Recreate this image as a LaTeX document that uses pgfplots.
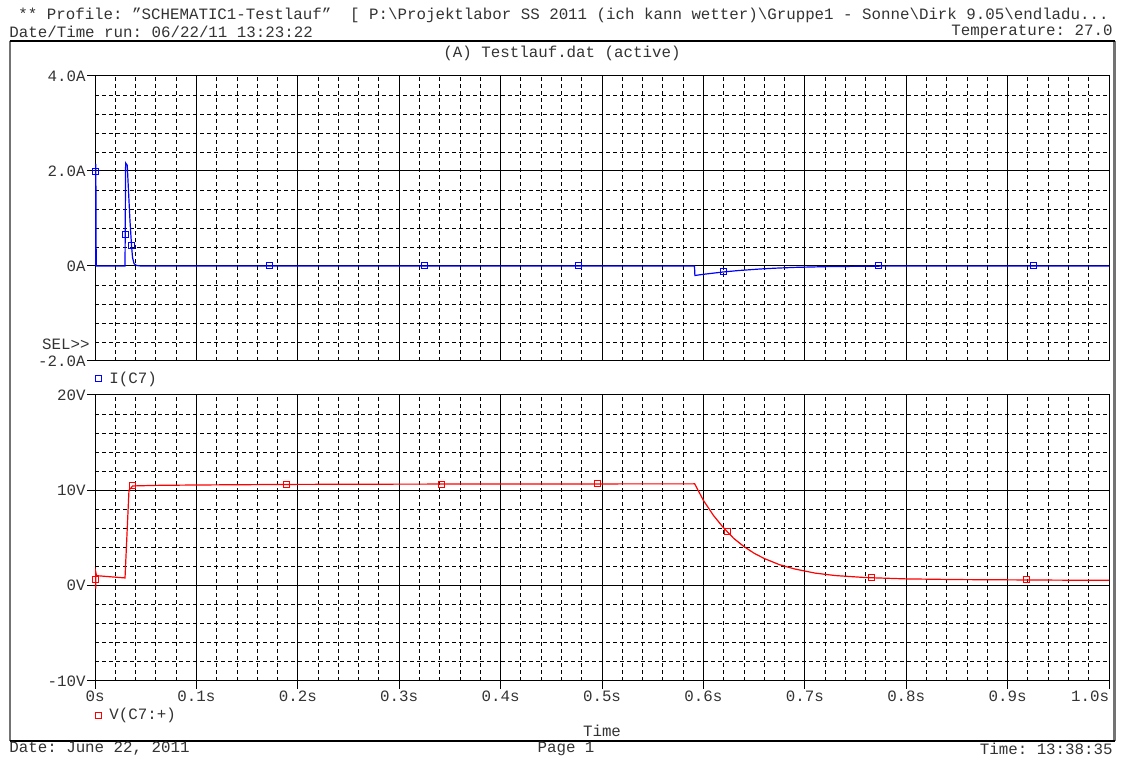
\documentclass[border=0pt]{standalone}
\usepackage{fontspec}
\setmainfont{Liberation Mono}[Ligatures=ResetAll]
\usepackage{pgfplots}
\pgfplotsset{compat=1.18}
\newcommand{\fsz}{\fontsize{7.9pt}{9pt}\selectfont}
\definecolor{txt}{gray}{0.2}

\pgfplotsset{
  psp/.style={
    scale only axis, width=507pt,
    xmin=0, xmax=1,
    xtick={0,0.1,...,1.0}, minor x tick num=4, minor y tick num=4,
    grid=both,
    major grid style={black, line width=0.5pt, solid},
    minor grid style={black, line width=0.45pt, dash pattern=on 2pt off 1.5pt},
    axis line style={black, line width=0.5pt},
    tick align=outside, major tick length=4pt, minor tick length=0pt,
    tick style={black, line width=0.5pt},
    xtick pos=bottom, ytick pos=left,
    tick label style={font=\fsz, text=txt},
    yticklabel style={inner sep=0.5pt},
    xticklabel style={inner sep=1pt},
    legend style={draw=none, fill=none, font=\fsz, text=txt, inner sep=0pt,
                  nodes={inner sep=1pt}, column sep=3pt},
    legend image code/.code={\draw[#1] plot coordinates {(0pt,0pt)};},
    clip=true,
  },
}

\begin{document}
\frenchspacing
\fsz
\begin{tikzpicture}[x=0.5pt, y=0.5pt, font=\fsz]
\path[use as bounding box] (0,0) rectangle (1122,758);

% page frame
\draw[black!55, line width=1.1pt] (10,717) -- (10,17);
\draw[black!55, line width=1.1pt] (1114.5,717) -- (1114.5,17);
\draw[black, line width=0.6pt] (9.5,717) -- (1115,717);
\draw[black, line width=0.6pt] (9.5,17) -- (1115,17);

% header and footer text
\node[anchor=west, inner sep=0, text=txt] at (18,743) {** Profile: \symbol{34}SCHEMATIC1-Testlauf\symbol{34}\ \ [ P:\textbackslash Projektlabor SS 2011 (ich kann wetter)\textbackslash Gruppe1 - Sonne\textbackslash Dirk 9.05\textbackslash endladu...};
\node[anchor=west, inner sep=0, text=txt] at (9,726) {Date/Time run: 06/22/11 13:23:22};
\node[anchor=east, inner sep=0, text=txt] at (1113,726) {Temperature: 27.0};
\node[inner sep=0, text=txt] at (562,705) {(A) Testlauf.dat (active)};
\node[anchor=east, inner sep=0, text=txt] at (90,414) {SEL{>}{>}};
\node[anchor=west, inner sep=0, text=txt] at (9,9) {Date: June 22, 2011};
\node[inner sep=0, text=txt] at (566,9) {Page 1};
\node[anchor=east, inner sep=0, text=txt] at (1113,9) {Time: 13:38:35};

\coordinate (A1) at (95,397);
\coordinate (A2) at (95,77);

% upper plot: I(C7)
\begin{axis}[psp, at={(A1)}, anchor=south west, height=142.5pt,
    ymin=-2, ymax=4, ytick={-2,0,2,4},
    yticklabels={-2.0A,0A,2.0A,4.0A},
    xticklabels={}, xtick style={draw=none},
    legend style={at={(axis description cs:0,-0.063)}, anchor=west},
]
\addplot[blue, line width=0.6pt, forget plot] coordinates {
 (0.0008,0) (0.0008,2.15) (0.0012,0) (0.0296,0) (0.0302,2.17) (0.0318,2.12)
 (0.0330,1.60) (0.0345,0.95) (0.0360,0.44) (0.0370,0.18) (0.0385,0.05)
 (0.041,0.01) (0.045,0) (0.5912,0) (0.5916,-0.20) (0.600,-0.175)
 (0.610,-0.150) (0.620,-0.125) (0.635,-0.095) (0.656,-0.063) (0.670,-0.047)
 (0.689,-0.030) (0.720,-0.014) (0.760,-0.005) (0.800,0) (1.0,0)
};
\addplot[blue, only marks, mark=square, mark size=1.5pt, line width=0.5pt] coordinates {
 (0,1.98) (0.0300,0.67) (0.0360,0.44) (0.1716,0) (0.3245,0) (0.477,0)
 (0.620,-0.12) (0.773,0) (0.926,0)
};
\addlegendentry{I(C7)}
\end{axis}

% lower plot: V(C7:+)
\begin{axis}[psp, at={(A2)}, anchor=south west, height=143pt,
    ymin=-10, ymax=20, ytick={-10,0,10,20},
    yticklabels={-10V,0V,10V,20V},
    xticklabels={0s,0.1s,0.2s,0.3s,0.4s,0.5s,0.6s,0.7s,0.8s,0.9s,\makebox[0pt][r]{1.0s}},
    xlabel={Time},
    xlabel style={at={(axis description cs:0.5,-0.175)}, anchor=center, font=\fsz, text=txt, inner sep=0pt},
    legend style={at={(axis description cs:0,-0.119)}, anchor=west},
]
\addplot[red, line width=0.6pt, forget plot] coordinates {
 (0.0008,-0.3) (0.0008,1.4) (0.0015,1.05) (0.0296,0.81) (0.0335,10.0) (0.0371,10.46)
 (0.06,10.52) (0.1,10.56) (0.19,10.62) (0.3,10.65) (0.45,10.67) (0.5914,10.68)
 (0.600,8.95) (0.610,7.35) (0.620,6.05) (0.630,4.95) (0.640,4.10) (0.650,3.40)
 (0.660,2.85) (0.675,2.20) (0.690,1.75) (0.710,1.32) (0.730,1.06) (0.760,0.85)
 (0.800,0.71) (0.850,0.64) (0.900,0.61) (0.950,0.58) (1.0,0.56)
};
\addplot[red, only marks, mark=square, mark size=1.5pt, line width=0.5pt] coordinates {
 (0,0.63) (0.0371,10.46) (0.189,10.63) (0.342,10.66) (0.496,10.67)
 (0.6236,5.67) (0.766,0.87) (0.919,0.62)
};
\addlegendentry{V(C7:+)}
\end{axis}
\end{tikzpicture}
\end{document}
